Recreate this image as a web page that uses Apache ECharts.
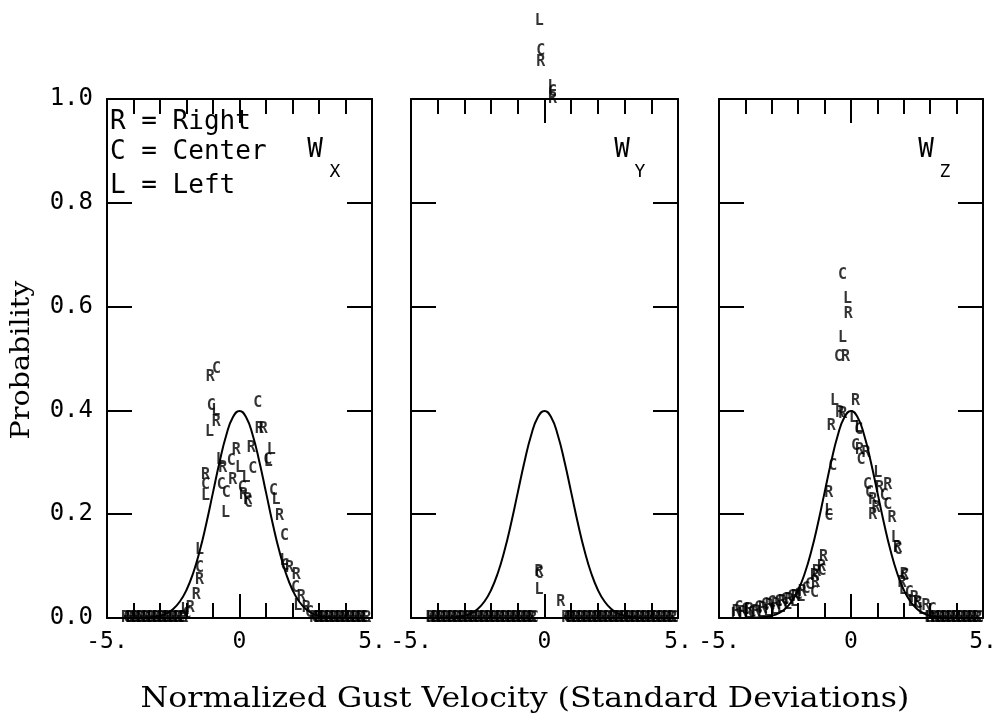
<!DOCTYPE html>
<html><head><meta charset="utf-8">
<script src="https://cdn.jsdelivr.net/npm/echarts@6/dist/echarts.min.js"></script>
<style>html,body{margin:0;padding:0;background:#fff}#c{width:1000px;height:727px}</style>
</head><body><div id="c"></div>
<script>
// ---------------- data ----------------
const panelSubscripts = ['X', 'Y', 'Z'];
const legendLines = ['R = Right', 'C = Center', 'L = Left'];
const yTitle = 'Probability';
const xTitle = 'Normalized Gust Velocity (Standard Deviations)';
const xTickLabels = { '-5': '-5.', '0': '0', '5': '5.' };

// Gaussian reference curve
const curveX = [-5,-4.75,-4.5,-4.25,-4,-3.75,-3.5,-3.25,-3,-2.75,-2.5,-2.25,-2,-1.75,-1.5,-1.25,-1,-0.75,-0.5,-0.25,0,
                0.25,0.5,0.75,1,1.25,1.5,1.75,2,2.25,2.5,2.75,3,3.25,3.5,3.75,4,4.25,4.5,4.75,5];
const curveP = [0,0,0,0.0001,0.0001,0.0004,0.0009,0.0020,0.0044,0.0091,0.0175,0.0317,0.0540,0.0863,0.1295,0.1826,0.2420,0.3011,0.3521,0.3867,0.3989,
                0.3867,0.3521,0.3011,0.2420,0.1826,0.1295,0.0863,0.0540,0.0317,0.0175,0.0091,0.0044,0.0020,0.0009,0.0004,0.0001,0.0001,0,0,0];

// Panel Wx
const wxR = [[-1.10,0.465],[-0.88,0.377],[-1.28,0.276],[-0.63,0.289],[-0.25,0.266],[-0.12,0.324],[0.15,0.237],[0.31,0.228],
             [0.44,0.328],[0.75,0.363],[0.90,0.363],[1.51,0.196],[1.89,0.096],[2.14,0.083],[2.33,0.041],[2.52,0.019],
             [-1.51,0.073],[-1.63,0.044],[-1.86,0.019]];
const wxC = [[-0.87,0.479],[-1.07,0.408],[-1.28,0.257],[-0.69,0.257],[-0.50,0.241],[-0.31,0.302],[0.10,0.250],[0.33,0.222],
             [0.50,0.287],[0.69,0.414],[1.07,0.305],[1.28,0.244],[1.70,0.157],[1.72,0.100],[2.11,0.057],[2.64,0.010],
             [-1.51,0.096],[-1.98,0.008]];
const wxL = [[-0.90,0.398],[-1.13,0.358],[-1.28,0.234],[-0.73,0.305],[-0.53,0.202],[0.00,0.289],[0.25,0.270],[1.20,0.324],
             [1.09,0.300],[1.38,0.228],[1.68,0.110],[2.20,0.022],[-1.51,0.131],[-2.07,0.015]];
const wxZeroR = [-4.30,-4.10,-3.90,-3.70,-3.50,-3.30,-3.10,-2.90,-2.70,-2.50,-2.30,-2.10,2.80,3.00,3.20,3.40,3.60,3.80,4.00,4.20,4.40,4.60,4.80];
const wxZeroC = [-4.23,-4.03,-3.83,-3.63,-3.43,-3.23,-3.03,-2.83,-2.63,-2.43,-2.23,2.87,3.07,3.27,3.47,3.67,3.87,4.07,4.27,4.47,4.67];
const wxZeroL = [-4.16,-3.96,-3.76,-3.56,-3.36,-3.16,-2.96,-2.76,-2.56,-2.36,-2.16,2.94,3.14,3.34,3.54,3.74,3.94,4.14,4.34,4.54,4.74];

// Panel Wy
const wyR = [[-0.14,1.071],[0.30,1.000],[-0.21,0.089],[0.61,0.031]];
const wyC = [[-0.14,1.093],[0.30,1.013],[-0.21,0.085]];
const wyL = [[-0.20,1.151],[0.28,1.023],[-0.21,0.054]];
const wyZeroR = [-4.25,-4.05,-3.85,-3.65,-3.45,-3.25,-3.05,-2.85,-2.65,-2.45,-2.25,-2.05,-1.85,-1.65,-1.45,-1.25,-1.05,-0.85,-0.65,-0.45,
                 0.80,1.00,1.20,1.40,1.60,1.80,2.00,2.20,2.40,2.60,2.80,3.00,3.20,3.40,3.60,3.80,4.00,4.20,4.40,4.60,4.80];
const wyZeroC = [-4.18,-3.98,-3.78,-3.58,-3.38,-3.18,-2.98,-2.78,-2.58,-2.38,-2.18,-1.98,-1.78,-1.58,-1.38,-1.18,-0.98,-0.78,-0.58,-0.38,
                 0.87,1.07,1.27,1.47,1.67,1.87,2.07,2.27,2.47,2.67,2.87,3.07,3.27,3.47,3.67,3.87,4.07,4.27,4.47,4.67,4.87];
const wyZeroL = [-4.31,-4.11,-3.91,-3.71,-3.51,-3.31,-3.11,-2.91,-2.71,-2.51,-2.31,-2.11,-1.91,-1.71,-1.51,-1.31,-1.11,-0.91,-0.71,-0.51,
                 0.94,1.14,1.34,1.54,1.74,1.94,2.14,2.34,2.54,2.74,2.94,3.14,3.34,3.54,3.74,3.94,4.14,4.34,4.54,4.74];

// Panel Wz
const wzR = [[-0.10,0.585],[-0.21,0.502],[0.17,0.418],[-0.43,0.395],[-0.31,0.392],[-0.75,0.369],[0.32,0.324],[0.57,0.318],
             [-0.84,0.241],[1.39,0.257],[1.08,0.250],[0.82,0.228],[0.95,0.212],[0.82,0.199],[1.55,0.192],[1.76,0.135],
             [-1.04,0.118],[-1.12,0.099],[-1.31,0.089],[-1.38,0.080],[-1.34,0.067],[2.02,0.083],[1.93,0.067],[2.40,0.038],
             [2.52,0.028],[2.84,0.022],
             [-4.35,0.012],[-4.10,0.010],[-3.85,0.015],[-3.60,0.012],[-3.35,0.018],[-3.10,0.022],[-2.85,0.025],[-2.60,0.030],
             [-2.35,0.035],[-2.10,0.040],[-1.85,0.050]];
const wzC = [[-0.32,0.660],[-0.47,0.502],[0.29,0.362],[0.17,0.331],[0.38,0.305],[-0.69,0.292],[-0.84,0.196],[0.63,0.257],
             [0.70,0.241],[1.26,0.234],[1.39,0.218],[1.78,0.130],[-1.10,0.090],[-1.57,0.064],[-1.38,0.048],[2.04,0.080],
             [2.21,0.048],[2.54,0.026],[3.08,0.015],
             [-4.25,0.020],[-4.00,0.015],[-3.75,0.010],[-3.50,0.020],[-3.25,0.025],[-3.00,0.028],[-2.75,0.030],[-2.50,0.035],
             [-2.25,0.040],[-2.00,0.045],[-1.70,0.055]];
const wzL = [[-0.13,0.615],[-0.32,0.540],[-0.62,0.418],[0.10,0.386],[0.29,0.366],[-0.84,0.205],[1.01,0.279],[1.68,0.154],
             [1.98,0.054],[2.30,0.030],[2.70,0.015],
             [-4.40,0.005],[-4.15,0.005],[-3.90,0.008],[-3.65,0.005],[-3.40,0.010],[-3.15,0.012],[-2.90,0.015],[-2.65,0.020],
             [-2.40,0.025],[-2.15,0.030],[-1.90,0.040]];
const wzZeroR = [3.00,3.20,3.40,3.60,3.80,4.00,4.20,4.40,4.60,4.80];
const wzZeroC = [3.27,3.47,3.67,3.87,4.07,4.27,4.47,4.67,4.87];
const wzZeroL = [2.94,3.14,3.34,3.54,3.74,3.94,4.14,4.34,4.54,4.74];

// ---------------- chart ----------------
const MONO = '"DejaVu Sans Mono"';
const SERIF = '"DejaVu Serif"';
const panels = [
  { R: wxR, C: wxC, L: wxL, zR: wxZeroR, zC: wxZeroC, zL: wxZeroL },
  { R: wyR, C: wyC, L: wyL, zR: wyZeroR, zC: wyZeroC, zL: wyZeroL },
  { R: wzR, C: wzC, L: wzL, zR: wzZeroR, zC: wzZeroC, zL: wzZeroL }
];
const gridBoxes = [
  { left: 107, top: 99, width: 265, height: 519 },
  { left: 411, top: 99, width: 267, height: 519 },
  { left: 719, top: 99, width: 264, height: 519 }
];
const black = '#000';
const xAxes = [], yAxes = [], series = [];
gridBoxes.forEach((g, i) => {
  const base = { gridIndex: i, type: 'value', min: -5, max: 5, splitLine: { show: false } };
  xAxes.push(Object.assign({}, base, {
    position: 'bottom', interval: 1,
    axisLine: { show: true, onZero: false, lineStyle: { color: black, width: 2 } },
    axisTick: { show: true, inside: true, length: 15, lineStyle: { color: black, width: 2 } },
    axisLabel: { show: true, showMinLabel: true, showMaxLabel: true, margin: 13, color: black,
      fontFamily: MONO, fontSize: 23, formatter: v => (xTickLabels[String(v)] || '') }
  }));
  xAxes.push(Object.assign({}, base, {
    position: 'top', interval: 1,
    axisLine: { show: true, onZero: false, lineStyle: { color: black, width: 2 } },
    axisTick: { show: true, inside: true, length: 15, lineStyle: { color: black, width: 2 } },
    axisLabel: { show: false }
  }));
  xAxes.push(Object.assign({}, base, {
    position: 'bottom', interval: 5,
    axisLine: { show: false, onZero: false },
    axisTick: { show: true, inside: true, length: 24, lineStyle: { color: black, width: 2 } },
    axisLabel: { show: false }
  }));
  xAxes.push(Object.assign({}, base, {
    position: 'top', interval: 5,
    axisLine: { show: false, onZero: false },
    axisTick: { show: true, inside: true, length: 24, lineStyle: { color: black, width: 2 } },
    axisLabel: { show: false }
  }));
  const ybase = { gridIndex: i, type: 'value', min: 0, max: 1, interval: 0.2, splitLine: { show: false } };
  yAxes.push(Object.assign({}, ybase, {
    position: 'left',
    axisLine: { show: true, onZero: false, lineStyle: { color: black, width: 2 } },
    axisTick: { show: true, inside: true, length: 25, lineStyle: { color: black, width: 2 } },
    axisLabel: { show: i === 0, margin: 14, color: black, fontFamily: MONO, fontSize: 24,
      formatter: v => v.toFixed(1) }
  }));
  yAxes.push(Object.assign({}, ybase, {
    position: 'right',
    axisLine: { show: true, onZero: false, lineStyle: { color: black, width: 2 } },
    axisTick: { show: true, inside: true, length: 25, lineStyle: { color: black, width: 2 } },
    axisLabel: { show: false }
  }));

  series.push({
    type: 'line', xAxisIndex: i * 4, yAxisIndex: i * 2,
    data: curveX.map((x, k) => [x, curveP[k]]),
    smooth: true, symbol: 'none', silent: true,
    lineStyle: { color: black, width: 2 }, z: 3
  });
  const p = panels[i];
  const letterSeries = (letter, pts) => ({
    type: 'scatter', xAxisIndex: i * 4, yAxisIndex: i * 2, data: pts,
    symbol: 'circle', symbolSize: 1, clip: false, silent: true,
    itemStyle: { color: 'rgba(0,0,0,0)' },
    label: { show: true, position: 'inside', formatter: letter, color: black,
      fontFamily: MONO, fontSize: 15, fontWeight: 'bold' },
    labelLayout: { hideOverlap: false },
    emphasis: { disabled: true }, z: 5
  });
  series.push(letterSeries('R', p.R.concat(p.zR.map(x => [x, 0]))));
  series.push(letterSeries('C', p.C.concat(p.zC.map(x => [x, 0]))));
  series.push(letterSeries('L', p.L.concat(p.zL.map(x => [x, 0]))));
});

const graphics = [
  { type: 'text', x: 22, y: 360, rotation: Math.PI / 2, scaleX: 1.1,
    style: { text: yTitle, font: '26px ' + SERIF, fill: black, align: 'center', verticalAlign: 'middle' } },
  { type: 'text', x: 525, y: 700, scaleX: 1.17,
    style: { text: xTitle, font: '27px ' + SERIF, fill: black, align: 'center', verticalAlign: 'middle' } }
];
const legendY = [122, 152, 186];
legendLines.forEach((t, k) => graphics.push({ type: 'text', x: 110, y: legendY[k], z: 10,
  style: { text: t, font: '26px ' + MONO, fill: black, align: 'left', verticalAlign: 'middle' } }));
const wPos = [[315, 335], [622, 640], [926, 945]];
panelSubscripts.forEach((s, k) => {
  graphics.push({ type: 'text', x: wPos[k][0], y: 150, z: 10,
    style: { text: 'W', font: '26px ' + MONO, fill: black, align: 'center', verticalAlign: 'middle' } });
  graphics.push({ type: 'text', x: wPos[k][1], y: 172, z: 10,
    style: { text: s, font: '18px ' + MONO, fill: black, align: 'center', verticalAlign: 'middle' } });
});

const chart = echarts.init(document.getElementById('c'), null, { renderer: 'canvas' });
chart.setOption({
  animation: false,
  backgroundColor: '#fff',
  grid: gridBoxes.map(g => Object.assign({ containLabel: false }, g)),
  xAxis: xAxes,
  yAxis: yAxes,
  series: series,
  graphic: graphics
});
</script></body></html>
